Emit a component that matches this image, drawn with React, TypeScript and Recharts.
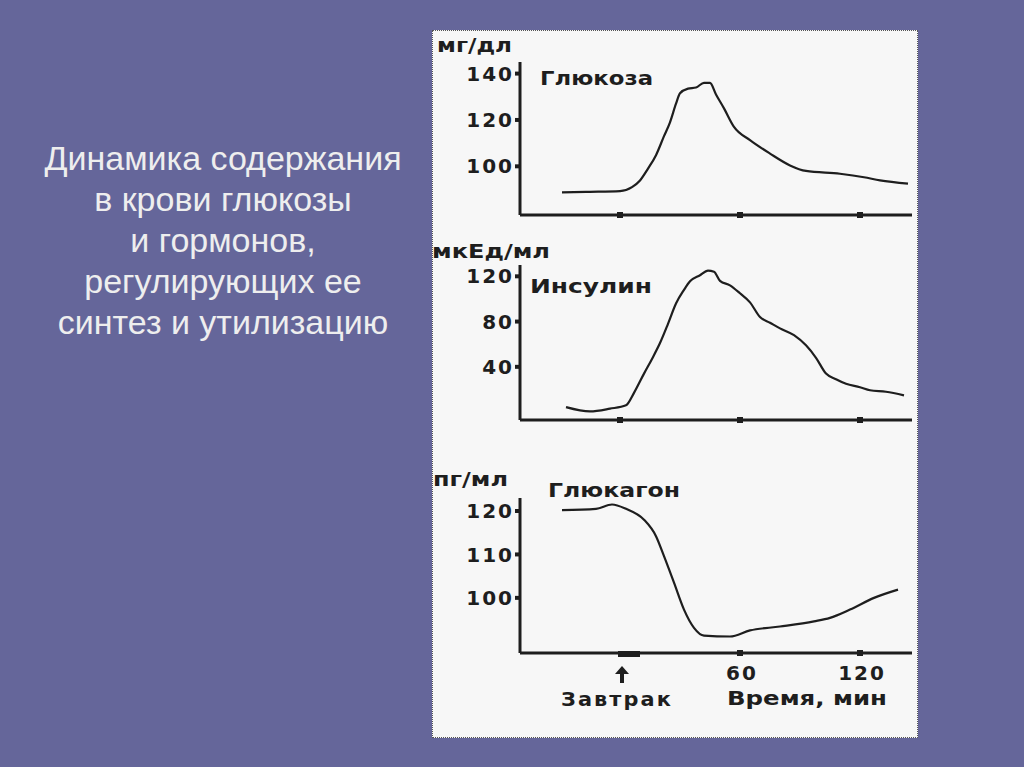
import { Line, LineChart, XAxis, YAxis } from "recharts";

// time in minutes (0 = breakfast)
const timeTicks = [0, 60, 120];

const glucoseMin = [-29, -15, 0, 6, 10, 14, 18, 22, 25, 28, 30, 34, 38, 42, 45, 48, 52, 57, 65, 75, 85, 93, 110, 122, 130, 144];
const glucoseMgDl = [88.8, 89, 89.3, 91, 93.9, 99, 104.8, 113, 119, 127, 131.5, 133.5, 134, 136, 136, 131, 125, 117, 111.3, 105.5, 100.4, 98, 96.8, 95.3, 93.9, 92.5];
const glucoseTicks = [100, 120, 140];

const insulinMin = [-27, -15, -5, 3, 7, 12, 16, 20, 24, 28, 32, 35, 40, 44, 47, 50, 55, 60, 65, 70, 75, 80, 87, 93, 98, 103, 108, 113, 120, 125, 133, 142];
const insulinMcU = [4.4, 0.6, 3, 6, 17, 34, 47, 61, 78, 96, 108, 115.6, 121, 125, 124, 116, 112, 105, 97, 84, 79, 74, 68, 59, 48, 34, 29, 25, 22, 19.3, 18, 14.8];
const insulinTicks = [40, 80, 120];

const glucagonMin = [-29, -12, -4, 3, 12, 18, 22, 27, 32, 37, 42, 55, 65, 80, 97, 105, 115, 127, 139];
const glucagonPgMl = [120.2, 120.5, 121.5, 120.5, 118, 114.2, 109.6, 103.5, 97.3, 93.1, 91.3, 91.1, 92.5, 93.4, 94.6, 95.4, 97.3, 100, 101.9];
const glucagonTicks = [100, 110, 120];

const titleLines = [
  "Динамика содержания",
  "в крови глюкозы",
  "и гормонов,",
  "регулирующих ее",
  "синтез и утилизацию",
];

const toPoints = (t: number[], v: number[]) => t.map((x, i) => ({ t: x, v: v[i] }));

const ink = "#1e1e1e";
const axisFont = { fontFamily: "DejaVu Sans", fontWeight: 700, fontSize: 20, fill: ink, letterSpacing: 2 };

function DotTick(props: any) {
  const { x, y } = props;
  return <rect x={x - 3} y={y - 3} width={6} height={6} fill={ink} />;
}

function TimeTick(props: any) {
  const { x, y, payload } = props;
  if (payload.value === 0) {
    return (
      <g>
        <rect x={x - 2} y={y - 2} width={22} height={6} fill={ink} />
        <path d={`M ${x + 2} ${y + 13} l -7 8 h 5 v 9 h 4 v -9 h 5 z`} fill={ink} />
        <text x={x - 3} y={y + 53} textAnchor="middle" textLength={112} lengthAdjust="spacingAndGlyphs" {...axisFont}>
          Завтрак
        </text>
      </g>
    );
  }
  return (
    <g>
      <rect x={x - 3} y={y - 3} width={6} height={6} fill={ink} />
      <text x={x + 2} y={y + 27} textAnchor="middle" {...axisFont}>
        {payload.value}
      </text>
    </g>
  );
}

type PanelProps = {
  top: number;
  height: number;
  bottomPad: number;
  data: { t: number; v: number }[];
  domain: [number, number];
  ticks: number[];
  labelled?: boolean;
};

function Panel({ top, height, bottomPad, data, domain, ticks, labelled }: PanelProps) {
  return (
    <div style={{ position: "absolute", left: 432, top }}>
      <LineChart width={486} height={height} margin={{ top: 33, right: 6, left: 0, bottom: 0 }}>
        <XAxis
          dataKey="t"
          type="number"
          domain={[-50, 146]}
          ticks={timeTicks}
          allowDataOverflow
          height={bottomPad}
          tickSize={0}
          tickMargin={0}
          tickLine={false}
          axisLine={{ stroke: ink, strokeWidth: 3 }}
          tick={labelled ? <TimeTick /> : <DotTick />}
        />
        <YAxis
          type="number"
          domain={domain}
          ticks={ticks}
          allowDataOverflow
          width={88}
          tickSize={5}
          tickMargin={1}
          tickLine={{ stroke: ink, strokeWidth: 4 }}
          axisLine={{ stroke: ink, strokeWidth: 3 }}
          tick={axisFont}
        />
        <Line
          data={data}
          dataKey="v"
          type="monotone"
          stroke={ink}
          strokeWidth={2.2}
          dot={false}
          isAnimationActive={false}
        />
      </LineChart>
    </div>
  );
}

const label = { fontFamily: "DejaVu Sans", fontWeight: 700, fontSize: 19, fill: ink };

export default function App() {
  return (
    <div style={{ position: "fixed", left: 0, top: 0, width: 1024, height: 767, background: "#65669a", overflow: "hidden" }}>
      <div
        style={{
          position: "absolute",
          left: 18,
          top: 138,
          width: 410,
          textAlign: "center",
          fontFamily: "Liberation Sans",
          fontSize: 34,
          lineHeight: "41px",
          color: "#eeeeee",
        }}
      >
        {titleLines.map((l) => (
          <div key={l}>{l}</div>
        ))}
      </div>

      <div
        style={{
          position: "absolute",
          left: 432,
          top: 30,
          width: 484,
          height: 706,
          background: "#f7f7f7",
          border: "1px dotted #555",
        }}
      />

      <Panel top={29} height={201} bottomPad={15} data={toPoints(glucoseMin, glucoseMgDl)} domain={[79, 145]} ticks={glucoseTicks} />
      <Panel top={232} height={203} bottomPad={15} data={toPoints(insulinMin, insulinMcU)} domain={[-7, 130]} ticks={insulinTicks} />
      <Panel top={465} height={258} bottomPad={70} data={toPoints(glucagonMin, glucagonPgMl)} domain={[87.3, 123]} ticks={glucagonTicks} labelled />

      <svg width={1024} height={767} style={{ position: "absolute", left: 0, top: 0, pointerEvents: "none" }}>
        <text x={437} y={52} textLength={75} lengthAdjust="spacingAndGlyphs" {...label}>мг/дл</text>
        <text x={540} y={85} textLength={113} lengthAdjust="spacingAndGlyphs" {...label}>Глюкоза</text>
        <text x={432} y={258} textLength={118} lengthAdjust="spacingAndGlyphs" {...label}>мкЕд/мл</text>
        <text x={530} y={293} textLength={122} lengthAdjust="spacingAndGlyphs" {...label}>Инсулин</text>
        <text x={433} y={486} textLength={75} lengthAdjust="spacingAndGlyphs" {...label}>пг/мл</text>
        <text x={548} y={497} textLength={132} lengthAdjust="spacingAndGlyphs" {...label}>Глюкагон</text>
        <text x={727} y={705} textLength={160} lengthAdjust="spacingAndGlyphs" {...label}>Время, мин</text>
      </svg>
    </div>
  );
}
